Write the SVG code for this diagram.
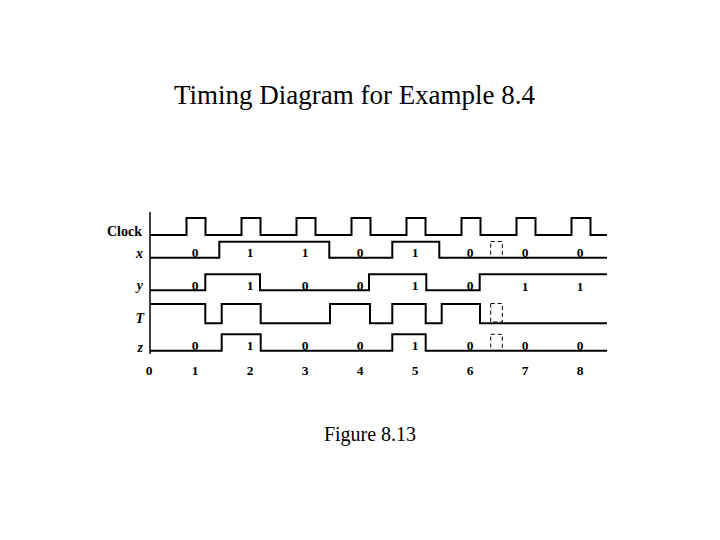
<svg xmlns="http://www.w3.org/2000/svg" width="720" height="540" viewBox="0 0 720 540">
<style>
.title{font-family:"Liberation Serif","Times New Roman",serif;font-size:27px;fill:#000}
.cap{font-family:"Liberation Serif","Times New Roman",serif;font-size:20px;fill:#000}
.lbl{font-family:"Liberation Serif","Times New Roman",serif;font-size:14px;font-weight:bold;fill:#000}
.sig{font-family:"Liberation Serif","Times New Roman",serif;font-size:14px;font-weight:bold;font-style:italic;fill:#000}
.v{font-family:"Liberation Serif","Times New Roman",serif;font-size:13.5px;font-weight:bold;fill:#000;text-anchor:middle}
.w{fill:none;stroke:#000;stroke-width:2;stroke-linejoin:miter}
.d{fill:none;stroke:#000;stroke-width:1;stroke-dasharray:4 3}
</style>
<rect width="720" height="540" fill="#fff"/>
<text class="title" x="354.5" y="104" text-anchor="middle">Timing Diagram for Example 8.4</text>
<text class="cap" x="370" y="441" text-anchor="middle">Figure 8.13</text>

<g id="axis">
<line x1="150" y1="212" x2="150" y2="354" stroke="#000" stroke-width="1.5"/>
<g class="v">
<text x="149" y="375">0</text><text x="195" y="375">1</text><text x="250" y="375">2</text><text x="305" y="375">3</text><text x="360" y="375">4</text><text x="415" y="375">5</text><text x="470" y="375">6</text><text x="525" y="375">7</text><text x="580" y="375">8</text>
</g>
</g>

<g id="clock">
<text class="lbl" x="142" y="236" text-anchor="end">Clock</text>
<path class="w" d="M150 235 H186.5 V218 H205.5 V235 H241.5 V218 H260.5 V235 H296.5 V218 H315.5 V235 H351.5 V218 H370.5 V235 H406.5 V218 H425.5 V235 H461.5 V218 H480.5 V235 H516.5 V218 H535.5 V235 H571.5 V218 H590.5 V235 H607"/>
</g>

<g id="x">
<text class="sig" x="143" y="258" text-anchor="end">x</text>
<path class="w" d="M150 257.7 H219.3 V241.7 H329.3 V257.7 H392.3 V241.7 H439.3 V257.7 H607"/>
<rect class="d" x="490.7" y="241.5" width="11.6" height="16"/>
<g class="v"><text x="195" y="257">0</text><text x="250" y="257">1</text><text x="305" y="257">1</text><text x="360" y="257">0</text><text x="415" y="257">1</text><text x="470" y="257">0</text><text x="525" y="257">0</text><text x="580" y="257">0</text></g>
</g>

<g id="y">
<text class="sig" x="143" y="290" text-anchor="end">y</text>
<path class="w" d="M150 290.3 H205.3 V274.3 H260 V290.3 H369 V274.3 H426.3 V290.3 H479.7 V274.3 H607"/>
<g class="v"><text x="195" y="289.5">0</text><text x="250" y="289.5">1</text><text x="305" y="289.5">0</text><text x="360" y="289.5">0</text><text x="415" y="289.5">1</text><text x="470" y="289.5">0</text><text x="525" y="290.5">1</text><text x="580" y="290.5">1</text></g>
</g>

<g id="T">
<text class="sig" x="144" y="323" text-anchor="end">T</text>
<path class="w" d="M150 304 H205.3 V323.3 H221.7 V304 H260.7 V323.3 H330 V304 H370 V323.3 H392.3 V304 H425.7 V323.3 H441.7 V304 H480 V323.3 H607"/>
<rect class="d" x="490.7" y="303.5" width="11.6" height="18.5"/>
</g>

<g id="z">
<text class="sig" x="143" y="352" text-anchor="end">z</text>
<path class="w" d="M150 350.7 H221.7 V334.3 H260.7 V350.7 H392.3 V334.3 H425.7 V350.7 H607"/>
<rect class="d" x="490.7" y="334.3" width="11.6" height="16"/>
<g class="v"><text x="195" y="350">0</text><text x="250" y="350">1</text><text x="305" y="350">0</text><text x="360" y="350">0</text><text x="415" y="350">1</text><text x="470" y="350">0</text><text x="525" y="350">0</text><text x="580" y="350">0</text></g>
</g>
</svg>
